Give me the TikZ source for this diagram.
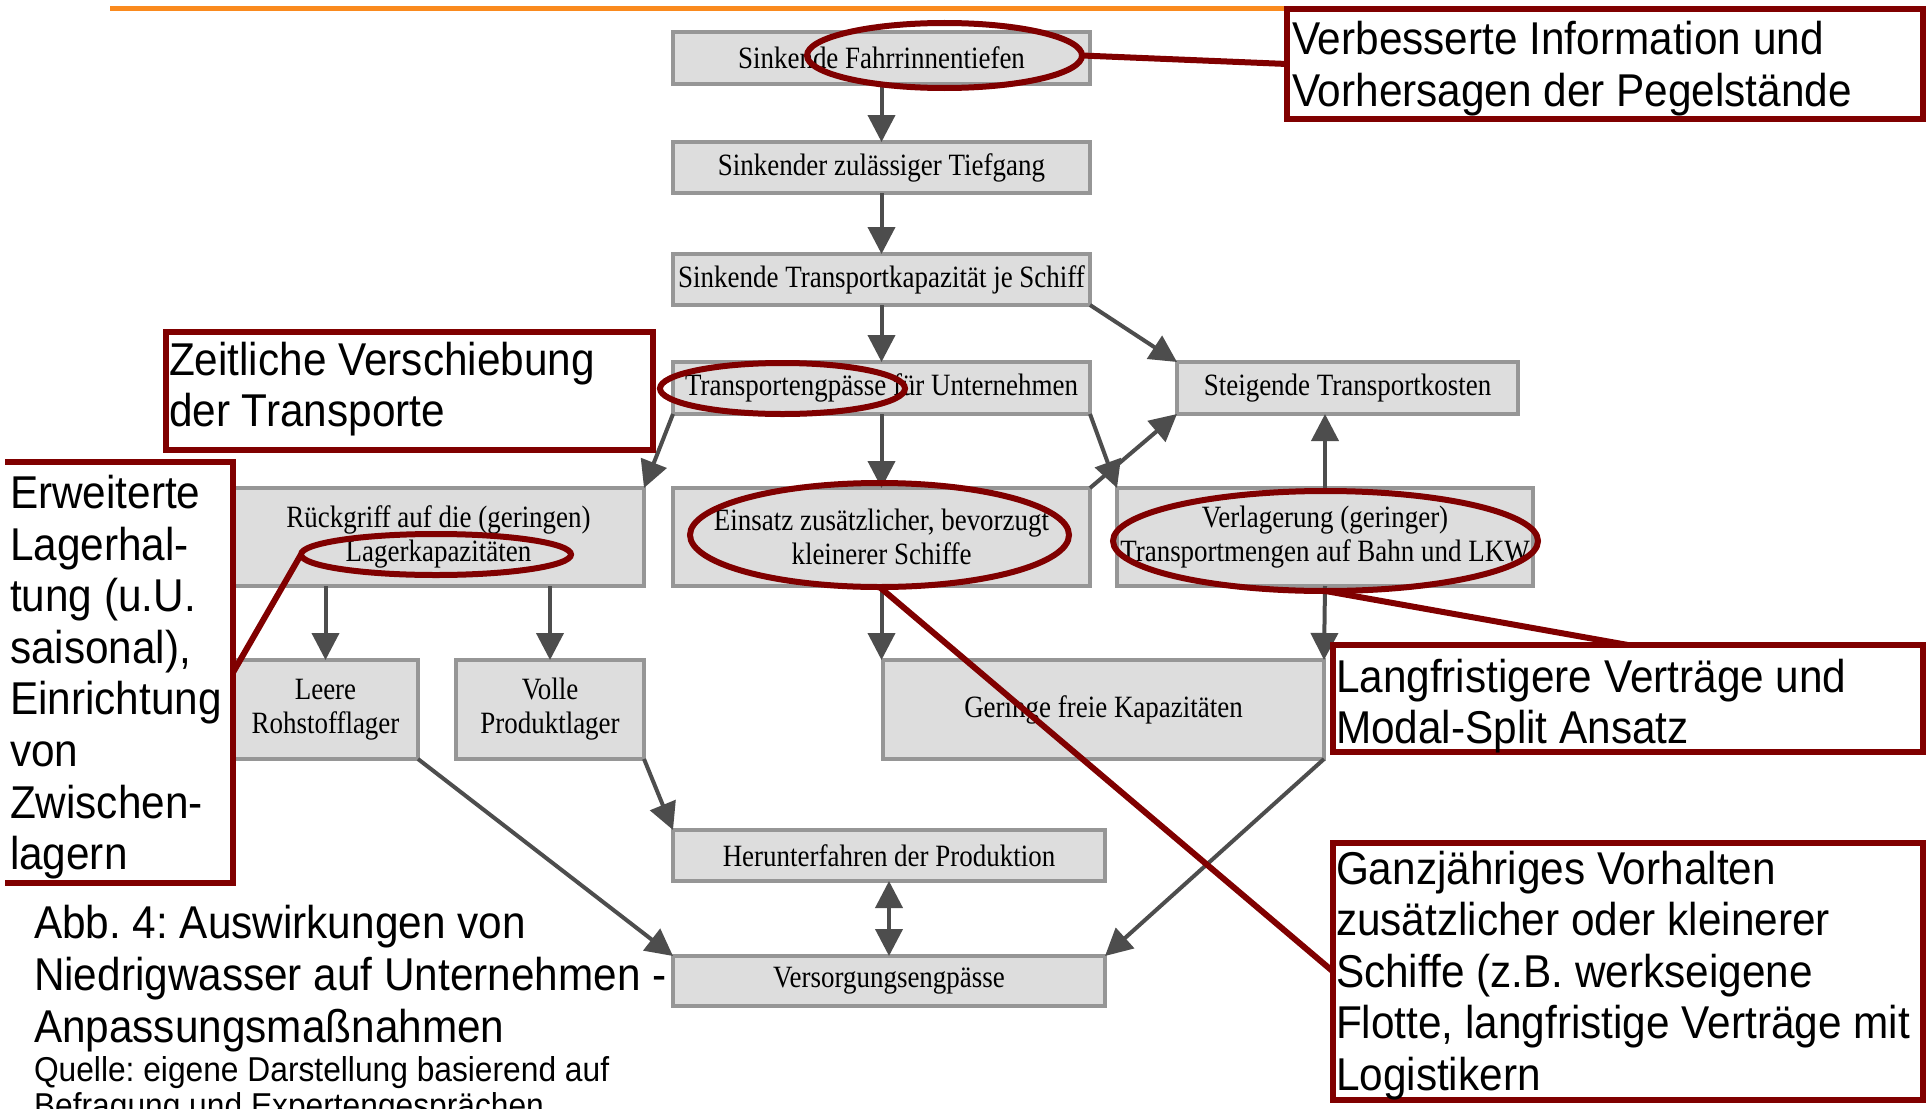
\documentclass[tikz,border=0pt]{standalone}
\usepackage{fontspec}
\setmainfont{Liberation Serif}
\newfontfamily\boxfam[FakeStretch=0.87]{Liberation Serif}
\newfontfamily\notefam[FakeStretch=0.92]{Liberation Sans}
\usetikzlibrary{arrows.meta,shapes.geometric}
\definecolor{boxline}{RGB}{150,150,150}
\definecolor{boxfill}{RGB}{221,221,221}
\definecolor{arrowgray}{RGB}{77,77,77}
\definecolor{annred}{RGB}{128,0,0}
\definecolor{orangeline}{RGB}{250,138,30}
\frenchspacing
\tikzset{
  gbox/.style={rectangle, draw=boxline, fill=boxfill, line width=3.5pt, inner sep=0pt, outer sep=0pt, align=center, font=\boxfam\fontsize{31}{34}\selectfont},
  arr/.style={draw=arrowgray, line width=4pt, -{Triangle[length=27pt,width=27pt]}},
  dblarr/.style={draw=arrowgray, line width=4pt, {Triangle[length=27pt,width=27pt]}-{Triangle[length=27pt,width=27pt]}},
  rbox/.style={rectangle, draw=annred, fill=white, line width=6pt, inner sep=0pt, outer sep=0pt},
  rell/.style={ellipse, draw=annred, line width=6pt, inner sep=0pt, outer sep=0pt},
  rline/.style={draw=annred, line width=6pt},
  ntext/.style={anchor=base west, inner sep=0pt, outer sep=0pt, font=\notefam\fontsize{46}{52}\selectfont},
  qtext/.style={anchor=base west, inner sep=0pt, outer sep=0pt, font=\notefam\fontsize{34.5}{38}\selectfont}
}
\begin{document}
\begin{tikzpicture}[x=1pt,y=-1pt]
\useasboundingbox (0,0) rectangle (1926,1108);
\clip (0,0) rectangle (1926,1108);
\fill[white] (0,0) rectangle (1926,1108);

% gray flow boxes
\node[gbox, minimum width=417pt, minimum height=52pt] (A) at (881.5,58) {Sinkende Fahrrinnentiefen};
\node[gbox, minimum width=417pt, minimum height=51pt] (B) at (881.5,167.5) {Sinkender zulässiger Tiefgang};
\node[gbox, minimum width=417pt, minimum height=51pt] (C) at (881.5,279.5) {Sinkende Transportkapazität je Schiff};
\node[gbox, minimum width=417pt, minimum height=52pt] (D) at (881.5,388) {Transportengpässe für Unternehmen};
\node[gbox, minimum width=341pt, minimum height=52pt] (E) at (1347.5,388) {Steigende Transportkosten};
\node[gbox, minimum width=411pt, minimum height=98pt] (F) at (438.5,537) {Rückgriff auf die (geringen)\\Lagerkapazitäten};
\node[gbox, minimum width=417pt, minimum height=98pt] (G) at (881.5,537) {Einsatz zusätzlicher, bevorzugt\\kleinerer Schiffe};
\node[gbox, minimum width=416pt, minimum height=98pt] (H) at (1325,537) {Verlagerung (geringer)\\Transportmengen auf Bahn und LKW};
\node[gbox, minimum width=185pt, minimum height=99pt] (I) at (325.5,709.5) {Leere\\Rohstofflager};
\node[gbox, minimum width=188pt, minimum height=99pt] (J) at (550,709.5) {Volle\\Produktlager};
\node[gbox, minimum width=441pt, minimum height=99pt] (K) at (1103.5,709.5) {Geringe freie Kapazitäten};
\node[gbox, minimum width=432pt, minimum height=51pt] (L) at (889,855.5) {Herunterfahren der Produktion};
\node[gbox, minimum width=432pt, minimum height=50pt] (M) at (889,981) {Versorgungsengpässe};

% gray arrows
\draw[arr] (A.south) -- (B.north);
\draw[arr] (B.south) -- (C.north);
\draw[arr] (C.south) -- (D.north);
\draw[arr] (C.south east) -- (E.north west);
\draw[arr] (D.south west) -- (F.north east);
\draw[arr] (D.south) -- (G.north);
\draw[arr] (D.south east) -- (H.north west);
\draw[arr] (G.north east) -- (E.south west);
\draw[arr] (H.north) -- (H.north |- E.south);
\draw[arr] (F.south -| I.north) -- (I.north);
\draw[arr] (F.south -| J.north) -- (J.north);
\draw[arr] (G.south) -- (G.south |- K.north);
\draw[arr] (H.south) -- (K.north east);
\draw[arr] (J.south east) -- (L.north west);
\draw[arr] (I.south east) -- (M.north west);
\draw[arr] (K.south east) -- (M.north east);
\draw[dblarr] (L.south) -- (M.north);

% red annotation boxes
\node[rbox, minimum width=636pt, minimum height=110pt] (R1) at (1605,64) {};
\coordinate (o1) at (110,9);
\draw[orangeline, line width=5pt] (o1) -- (o1 -| R1.west);
\node[rbox, minimum width=636pt, minimum height=110pt] (R1b) at (1605,64) {};
\node[rbox, minimum width=487pt, minimum height=118pt] (R2) at (409.5,391) {};
\node[rectangle, inner sep=0pt, outer sep=0pt, minimum width=228pt, minimum height=421pt] (R3) at (119,672.5) {};
\draw[rline] (R3.north west) -- (R3.north east) -- (R3.south east) -- (R3.south west);
\node[rbox, minimum width=590pt, minimum height=107pt] (R4) at (1628,698.5) {};
\node[rbox, minimum width=590pt, minimum height=257pt] (R5) at (1628,971.5) {};

% red ellipses
\node[rell, minimum width=275pt, minimum height=65pt] (e1) at (944.5,55.5) {};
\node[rell, minimum width=245pt, minimum height=51pt] (e2) at (782.5,388.5) {};
\node[rell, minimum width=270pt, minimum height=41pt] (e3) at (436,554.5) {};
\node[rell, minimum width=379pt, minimum height=104pt] (e4) at (879.5,535) {};
\node[rell, minimum width=425pt, minimum height=100pt] (e5) at (1325.5,541) {};

% red connector lines
\draw[rline] (e1.east) -- (R1b.west);
\draw[rline] (e3.west) -- (R3.east);
\draw[rline] (e4.south) -- (R5.west);
\draw[rline] (e5.south) -- (R4.north);

% annotation texts
\node[ntext] (t1a) at (1292,55) {Verbesserte Information und};
\node[ntext] (t1b) at (1292,106.6) {Vorhersagen der Pegelstände};
\node[ntext] (t2a) at (169,375) {Zeitliche Verschiebung};
\node[ntext] (t2b) at (169,426.6) {der Transporte};
\node[ntext] (t3a) at (10,508.5) {Erweiterte};
\node[ntext] (t3b) at (10,560.1) {Lagerhal-};
\node[ntext] (t3c) at (10,611.7) {tung (u.U.};
\node[ntext] (t3d) at (10,663.3) {saisonal),};
\node[ntext] (t3e) at (10,714.9) {Einrichtung};
\node[ntext] (t3f) at (10,766.5) {von};
\node[ntext] (t3g) at (10,818.1) {Zwischen-};
\node[ntext] (t3h) at (10,869.7) {lagern};
\node[ntext] (t4a) at (1336,692) {Langfristigere Verträge und};
\node[ntext] (t4b) at (1336,743.6) {Modal-Split Ansatz};
\node[ntext] (t5a) at (1336,884) {Ganzjähriges Vorhalten};
\node[ntext] (t5b) at (1336,935.6) {zusätzlicher oder kleinerer};
\node[ntext] (t5c) at (1336,987.2) {Schiffe (z.B. werkseigene};
\node[ntext] (t5d) at (1336,1038.8) {Flotte, langfristige Verträge mit};
\node[ntext] (t5e) at (1336,1090.4) {Logistikern};

% caption
\node[ntext] (c1) at (34,938) {Abb. 4: Auswirkungen von};
\node[ntext] (c2) at (34,990) {Niedrigwasser auf Unternehmen -};
\node[ntext] (c3) at (34,1042) {Anpassungsmaßnahmen};
\node[qtext] (q1) at (34,1081) {Quelle: eigene Darstellung basierend auf};
\node[qtext] (q2) at (34,1117) {Befragung und Expertengesprächen};
\end{tikzpicture}
\end{document}
